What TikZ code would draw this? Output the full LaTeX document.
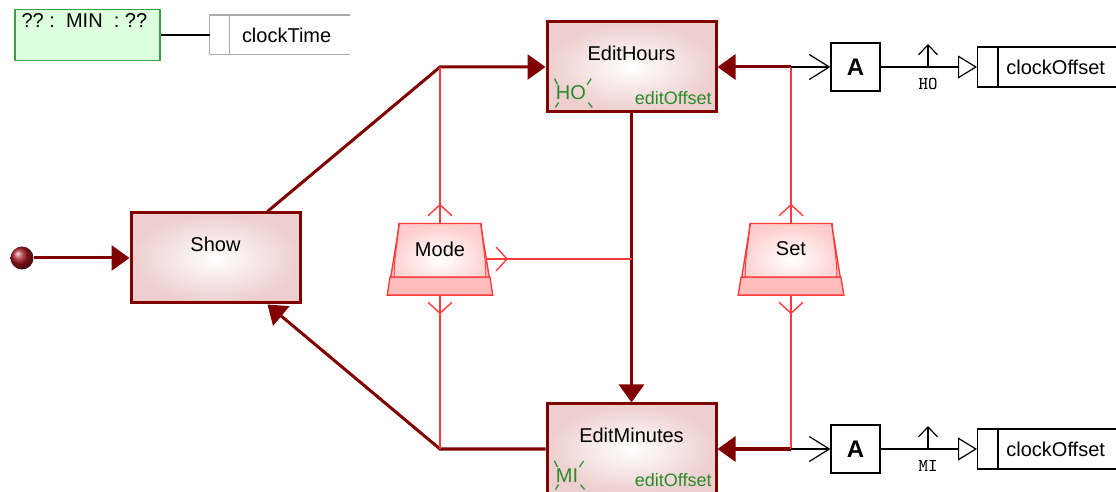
\documentclass[tikz,border=0pt]{standalone}
\usepackage{fontspec}
\setmainfont{Liberation Sans}
\usepackage{tikz}
\usetikzlibrary{arrows.meta,shapes.geometric,calc,positioning}

\definecolor{statered}{RGB}{128,0,0}
\definecolor{statepink}{RGB}{238,206,206}
\definecolor{initred}{RGB}{165,25,35}
\definecolor{sigred}{RGB}{255,60,60}
\definecolor{keypink}{RGB}{255,205,205}
\definecolor{bandpink}{RGB}{255,190,190}
\definecolor{varfill}{RGB}{221,255,221}
\definecolor{varline}{RGB}{60,160,60}
\definecolor{actgreen}{RGB}{40,140,40}
\definecolor{tagline}{RGB}{170,170,170}

\begin{document}
\begin{tikzpicture}[
        x=0.5pt, y=-0.5pt,
        dot/.style = {circle, inner sep=0pt, minimum size=11.5pt, ball color=initred},
        no/.style = {},
        stbox/.style = {draw=statered, line width=1.5pt, inner color=white, outer color=statepink, minimum width=84.5pt, minimum height=45pt},
        keycap/.style = {draw=sigred, line width=0.7pt, trapezium, trapezium stretches=true, trapezium left angle=82, trapezium right angle=82, minimum width=52pt, minimum height=35.5pt, inner color=white, outer color=keypink},
        trans/.style = {draw=statered, line width=1.5pt, -{Triangle[length=9pt,width=12.5pt]}},
        sig/.style = {draw=sigred, line width=0.7pt},
        sigtip/.style = {sig, -{Straight Barb[length=5.5pt,width=12pt]}},
        wire/.style = {draw=black, line width=0.6pt},
        fb/.style = {draw, line width=0.6pt, minimum width=24.5pt, minimum height=24pt, font=\bfseries\large},
        port/.style = {draw, line width=0.6pt, minimum height=20pt, minimum width=80pt, inner sep=0pt},
        var/.style = {draw=varline, fill=varfill, line width=0.8pt, minimum width=72.5pt, minimum height=25.5pt},
        tag/.style = {minimum width=70pt, minimum height=19.5pt, inner sep=0pt},
        act/.style = {text=actgreen, inner sep=2pt},
        ]
        \useasboundingbox (0,0) rectangle (1116,492);
        \clip (0,0) rectangle (1116,492);

        % variables
        \node[var](tm) at (87.5,35) [label={[anchor=north west, inner sep=2pt, xshift=1.5pt]north west:??~:~~MIN~~:~??}] {};
        \node[tag](ct) at (280,35) [label={[anchor=west, inner sep=0pt, xshift=16pt]west:clockTime}] {};
        \draw[tagline, line width=0.6pt] (ct.north east) -- (ct.north west) -- (ct.south west) -- (ct.south east);
        \draw[tagline, line width=0.6pt] ($(ct.north west)+(20,0)$) -- ($(ct.south west)+(20,0)$);
        \draw[wire] (tm) -- (ct);

        % states
        \node[dot](init) at (22,258) {};
        \node[stbox](show) at (215.5,258) [label={[anchor=north, yshift=-9.25pt]north:Show}] {};
        \node[stbox](eh) at (631.5,67) [label={[anchor=north, yshift=-9.25pt]north:EditHours}, label={[act, anchor=south west, name=ho, xshift=3pt, yshift=4.5pt]south west:HO}, label={[act, anchor=south east, font=\small, xshift=-0.75pt, yshift=2.25pt]south east:editOffset}] {};
        \node[stbox](em) at (631.5,449) [label={[anchor=north, yshift=-9.25pt]north:EditMinutes}, label={[act, anchor=south west, name=mi, xshift=3pt, yshift=4.5pt]south west:MI}, label={[act, anchor=south east, font=\small, xshift=-0.75pt, yshift=2.25pt]south east:editOffset}] {};
        \foreach \a in {ho,mi} {
            \draw[actgreen, line width=0.6pt] ($(\a.north west)+(3,-3)$) -- ++(3,6);
            \draw[actgreen, line width=0.6pt] ($(\a.north east)+(1,-3)$) -- ++(-4,6);
            \draw[actgreen, line width=0.6pt] ($(\a.south west)+(4,3)$) -- ++(3,-5);
            \draw[actgreen, line width=0.6pt] ($(\a.south east)+(2,3)$) -- ++(-4,-5);
        }

        % inputs
        \node[keycap](mode) at (440,259) [label={[anchor=north, yshift=-5.85pt]north:Mode}] {};
        \node[keycap](set) at (791,259) [label={[anchor=north, yshift=-5.85pt]north:Set}] {};
        \foreach \k in {mode,set} {
            \coordinate (bl) at ($(\k.bottom left corner)!0.25!(\k.top left corner)$);
            \coordinate (br) at ($(\k.bottom right corner)!0.25!(\k.top right corner)$);
            \filldraw[sig, fill=bandpink] (\k.bottom left corner) -- (bl) -- (br) -- (\k.bottom right corner) -- cycle;
            \draw[sig, line width=0.5pt] (\k.top left corner) .. controls +(-1,20) and +(0,-20) .. ($(bl)+(4,0)$);
            \draw[sig, line width=0.5pt] (\k.top right corner) .. controls +(1,20) and +(0,-20) .. ($(br)+(-4,0)$);
        }

        \coordinate (hm) at (mode |- eh);
        \coordinate (mm) at (mode |- em);
        \coordinate (hs) at (set |- eh);
        \coordinate (ms) at (set |- em);
        \coordinate (mv) at (eh |- mode.east);

        % transitions
        \draw[trans] (init) -- (show);
        \draw[trans] ($(show.north)+(52,0)$) -- (hm) -- (eh);
        \draw[trans] (eh) -- (em);
        \draw[trans] (em) -- (mm) -- ($(show.south)+(52,0)$);
        \draw[trans] (hs) -- (eh);
        \draw[trans] (ms) -- (em);

        % key signals
        \draw[sig] (hm) -- (mode);
        \draw[sig] (mode) -- (mm);
        \draw[sig] (mode.east) -- (mv);
        \draw[sigtip] (mode.north) -- ++(0,-19);
        \draw[sigtip] (mode.south) -- ++(0,19);
        \draw[sigtip] (mode.east) -- ++(21,0);
        \draw[sig] (hs) -- (set);
        \draw[sig] (set) -- (ms);
        \draw[sigtip] (set.north) -- ++(0,-19);
        \draw[sigtip] (set.south) -- ++(0,19);

        % outputs
        \node[fb](ah) at (855.5,67) {A};
        \node[fb](am) at (855.5,449) {A};
        \node[port, anchor=west](coh) at (977,67) [label={[anchor=west, inner sep=0pt, xshift=14.5pt]west:clockOffset}] {};
        \node[port, anchor=west](com) at (977,449) [label={[anchor=west, inner sep=0pt, xshift=14.5pt]west:clockOffset}] {};
        \draw[wire] ($(coh.north west)+(21,0)$) -- ($(coh.south west)+(21,0)$);
        \draw[wire] ($(com.north west)+(21,0)$) -- ($(com.south west)+(21,0)$);
        \node[no](hoq) at (928,67) [label={[font=\ttfamily\small, yshift=1.5pt]below:HO}] {};
        \node[no](miq) at (928,449) [label={[font=\ttfamily\small, yshift=1.5pt]below:MI}] {};

        \draw[wire, -{Straight Barb[length=10pt,width=12.5pt]}] (hs) -- (ah);
        \draw[wire, -{Straight Barb[length=10pt,width=12.5pt]}] (ms) -- (am);
        \draw[wire, -{Triangle[open, length=9.5pt, width=11.5pt]}] (ah) -- (coh);
        \draw[wire, -{Triangle[open, length=9.5pt, width=11.5pt]}] (am) -- (com);
        \draw[wire, -{Straight Barb[length=5pt,width=9.5pt]}] (hoq.center) -- ++(0,-23);
        \draw[wire, -{Straight Barb[length=5pt,width=9.5pt]}] (miq.center) -- ++(0,-23);
\end{tikzpicture}
\end{document}
